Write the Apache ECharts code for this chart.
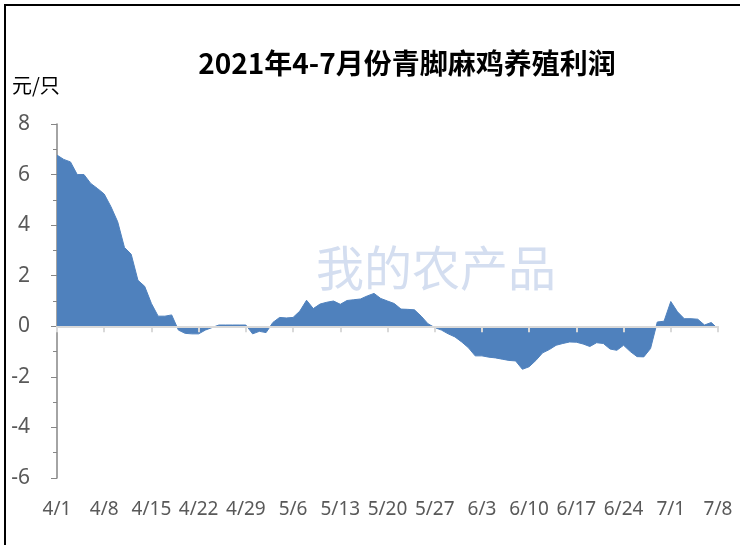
<!DOCTYPE html>
<html>
<head>
<meta charset="utf-8">
<script src="https://cdn.jsdelivr.net/npm/echarts@6/dist/echarts.min.js"></script>
<style>
  html, body { margin: 0; padding: 0; background: #fff; }
  #myChart { width: 740px; height: 545px; }
</style>
</head>
<body>
<div id="myChart"></div>
<script>
// 日期 4/1 - 7/8（逐日）
var dayLabels = [
  '4/1', '4/2', '4/3', '4/4', '4/5', '4/6', '4/7', '4/8', '4/9', '4/10',
  '4/11', '4/12', '4/13', '4/14', '4/15', '4/16', '4/17', '4/18', '4/19', '4/20',
  '4/21', '4/22', '4/23', '4/24', '4/25', '4/26', '4/27', '4/28', '4/29', '4/30',
  '5/1', '5/2', '5/3', '5/4', '5/5', '5/6', '5/7', '5/8', '5/9', '5/10',
  '5/11', '5/12', '5/13', '5/14', '5/15', '5/16', '5/17', '5/18', '5/19', '5/20',
  '5/21', '5/22', '5/23', '5/24', '5/25', '5/26', '5/27', '5/28', '5/29', '5/30',
  '5/31', '6/1', '6/2', '6/3', '6/4', '6/5', '6/6', '6/7', '6/8', '6/9',
  '6/10', '6/11', '6/12', '6/13', '6/14', '6/15', '6/16', '6/17', '6/18', '6/19',
  '6/20', '6/21', '6/22', '6/23', '6/24', '6/25', '6/26', '6/27', '6/28', '6/29',
  '6/30', '7/1', '7/2', '7/3', '7/4', '7/5', '7/6', '7/7', '7/8'
]

// 养殖利润 元/只
var profit = [
  6.77, 6.6, 6.5, 6.0, 6.0, 5.65, 5.45, 5.23, 4.73, 4.13,
  3.12, 2.85, 1.82, 1.58, 0.9, 0.4, 0.4, 0.45, -0.15, -0.28,
  -0.3, -0.3, -0.15, -0.05, 0.05, 0.05, 0.05, 0.05, 0.05, -0.3,
  -0.2, -0.25, 0.15, 0.35, 0.33, 0.35, 0.6, 1.03, 0.7, 0.88,
  0.95, 1.0, 0.87, 1.02, 1.05, 1.08, 1.2, 1.3, 1.1, 1.0,
  0.9, 0.68, 0.67, 0.65, 0.4, 0.1, -0.05, -0.15, -0.3, -0.42,
  -0.62, -0.85, -1.17, -1.17, -1.22, -1.25, -1.3, -1.35, -1.37, -1.7,
  -1.6, -1.35, -1.05, -0.92, -0.75, -0.68, -0.62, -0.63, -0.7, -0.8,
  -0.65, -0.68, -0.9, -0.95, -0.75, -1.0, -1.2, -1.21, -0.88, 0.17,
  0.2, 0.98, 0.57, 0.3, 0.3, 0.28, 0.05, 0.15, -0.1
]

var titleText = '2021年4-7月份青脚麻鸡养殖利润'
var unitText = '元/只'

var myChart = echarts.init(document.getElementById('myChart'))
myChart.setOption({
  animation: false,
  title: {
    text: titleText,
    left: 402,
    top: 44,
    textAlign: 'center',
    textStyle: {
      fontFamily: 'Noto Sans CJK SC',
      fontSize: 28,
      fontWeight: 'bold',
      color: '#000'
    }
  },
  graphic: [
    // 外边框
    {
      type: 'rect',
      shape: { x: 5, y: 5, width: 760, height: 570 },
      style: { fill: 'none', stroke: '#000', lineWidth: 2 },
      z: 0
    },
    {
      type: 'text',
      left: 12,
      top: 75,
      style: { text: unitText, font: '20px "Noto Sans CJK SC"', fill: '#000' }
    },
    // 水印
    {
      type: 'text',
      left: 316,
      top: 244,
      z: 0,
      style: { text: '我的农产品', font: '48px "Noto Sans CJK SC"', fill: 'rgba(170,190,225,0.5)' }
    }
  ],
  grid: {
    left: 57,
    right: 22,
    top: 124,
    bottom: 67
  },
  xAxis: [
    {
      // 零线及刻度
      type: 'category',
      boundaryGap: false,
      data: dayLabels,
      axisLine: { onZero: true, lineStyle: { color: '#d9d9d9', width: 2 } },
      axisTick: { show: true, interval: 6, length: 6, lineStyle: { color: '#d9d9d9', width: 2 } },
      axisLabel: { show: false },
      splitLine: { show: false },
      z: 5
    },
    {
      // 底部日期标签
      type: 'category',
      boundaryGap: false,
      data: dayLabels,
      position: 'bottom',
      axisLine: { show: false, onZero: false },
      axisTick: { show: false },
      axisLabel: {
        interval: 6,
        margin: 22,
        fontFamily: 'Noto Sans',
        fontSize: 19,
        color: '#595959',
        showMaxLabel: true
      }
    }
  ],
  yAxis: {
    type: 'value',
    min: -6,
    max: 8,
    interval: 2,
    axisLine: { show: true, lineStyle: { color: '#868686', width: 1.5 } },
    axisTick: { show: true, length: 6, lineStyle: { color: '#868686' } },
    minorTick: { show: true, splitNumber: 2, length: 4, lineStyle: { color: '#868686' } },
    splitLine: { show: false },
    axisLabel: {
      margin: 27,
      fontFamily: 'Noto Sans',
      fontSize: 21,
      color: '#595959'
    }
  },
  series: [
    {
      type: 'line',
      xAxisIndex: 0,
      data: profit,
      symbol: 'none',
      lineStyle: { color: '#4f81bd', width: 1 },
      itemStyle: { color: '#4f81bd' },
      areaStyle: { color: '#4f81bd', opacity: 1, origin: 0 },
      z: 3
    }
  ]
})
</script>
</body>
</html>
